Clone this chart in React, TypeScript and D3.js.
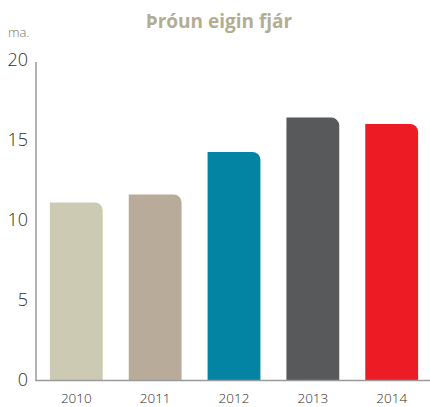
import React from "react";
import * as d3 from "d3";

const years = ["2010", "2011", "2012", "2013", "2014"];
const values = [11.1, 11.6, 14.25, 16.4, 16.0];
const colors = ["#cccab2", "#b9ab9a", "#0284a2", "#58595b", "#ed1c24"];
const yTicks = [0, 5, 10, 15, 20];

const W = 430;
const H = 407;

export default function App() {
  const x = d3.scaleBand<string>().domain(years).range([36.5, 431.5]).paddingInner(0.33).paddingOuter(0.17);
  const y = d3.scaleLinear().domain([0, 20]).range([380, 60]);
  const r = 8;
  const font = "'Open Sans', 'DejaVu Sans', sans-serif";

  const barPath = (xs: number, w: number, top: number, bottom: number) => {
    const rr = Math.min(r, w / 2, bottom - top);
    return `M${xs},${bottom}V${top}H${xs + w - rr}A${rr},${rr} 0 0 1 ${xs + w},${top + rr}V${bottom}Z`;
  };

  return (
    <svg width={W} height={H} style={{ position: "absolute", left: 0, top: 0, background: "#fff" }}>
      <text x={219} y={28} textAnchor="middle" fontFamily={font} fontWeight={700} fontSize={19} fill="#b3ad93">
        Þróun eigin fjár
      </text>
      <text x={8} y={37} fontFamily={font} fontWeight={300} fontSize={13} fill="#6f6f6f">ma.</text>
      {years.map((yr, i) => (
        <path
          key={yr}
          d={barPath(x(yr)!, x.bandwidth(), y(values[i]), y(0))}
          fill={colors[i]}
        />
      ))}
      <line x1={36} x2={36} y1={62} y2={380.5} stroke="#9a9a9a" strokeWidth={1.5} />
      <line x1={35.25} x2={430} y1={380.5} y2={380.5} stroke="#9a9a9a" strokeWidth={1.5} />
      {yTicks.map((t) => (
        <text key={t} x={28} y={y(t) + 6} textAnchor="end" fontFamily={font} fontWeight={300} fontSize={18} fill="#2f2f2f">
          {t}
        </text>
      ))}
      {years.map((yr) => (
        <text key={yr} x={x(yr)! + x.bandwidth() / 2} y={403} textAnchor="middle" fontFamily={font} fontWeight={300} fontSize={13.5} fill="#2f2f2f">
          {yr}
        </text>
      ))}
    </svg>
  );
}
